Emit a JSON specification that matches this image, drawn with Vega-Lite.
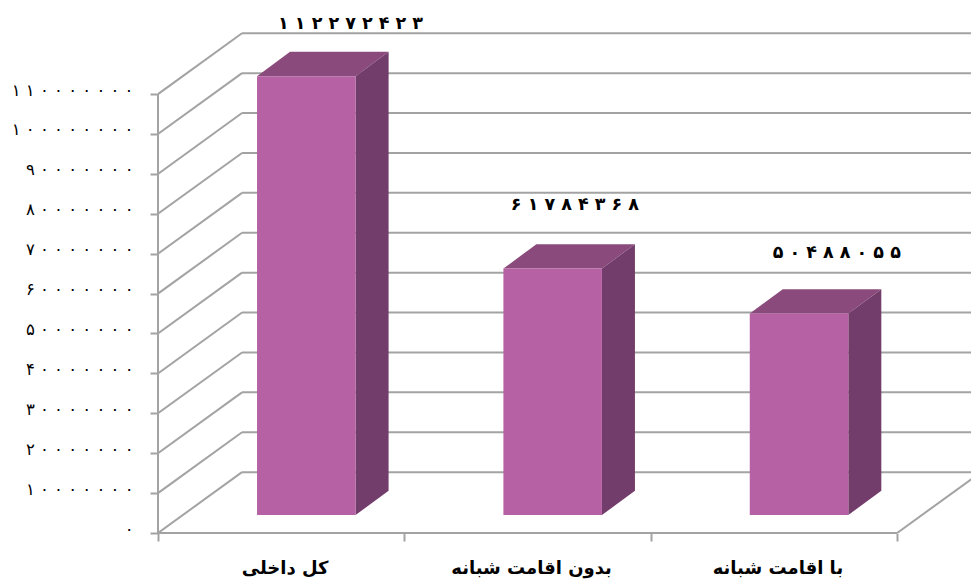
{
"$schema":"https://vega.github.io/schema/vega-lite/v6.json",
"width":813,"height":533,
"autosize":{"type":"none"},
"padding":{"left":158,"top":0,"right":0,"bottom":49},
"background":"#ffffff",
"config":{"view":{"stroke":null},"axis":{"title":null,"grid":false,"domain":false}},
"datasets":{
"bars":[
{"category":"کل داخلی","slot":0,"value":112272423},
{"category":"بدون اقامت شبانه","slot":1,"value":61784368},
{"category":"با اقامت شبانه","slot":2,"value":50488055}
],
"ticks":[{"tick":0},{"tick":10000000},{"tick":20000000},{"tick":30000000},{"tick":40000000},{"tick":50000000},{"tick":60000000},{"tick":70000000},{"tick":80000000},{"tick":90000000},{"tick":100000000},{"tick":110000000}]
},
"layer":[
{"data":{"name":"ticks"},"transform":[{"calculate":"datum.tick+15250000","as":"tickBack"}],
"mark":{"type":"rule","color":"#a3a3a3","strokeWidth":2,"clip":true},
"encoding":{
"x":{"datum":0,"type":"quantitative","scale":{"domain":[0,3.3],"nice":false,"zero":false},
"axis":{"values":[0,1,2,3],"labels":false,"tickColor":"#a3a3a3","tickWidth":2,"tickSize":8}},
"x2":{"datum":0.341},
"y":{"field":"tick","type":"quantitative","scale":{"domain":[0,133580000],"nice":false,"zero":false},
"axis":{"values":[0,10000000,20000000,30000000,40000000,50000000,60000000,70000000,80000000,90000000,100000000,110000000],"format":"d","tickColor":"#a3a3a3","tickWidth":2,"tickSize":8,"labelPadding":17,"labelFont":"DejaVu Sans","labelFontSize":16.5,"labelColor":"#000000","labelOffset":-4,"labelExpr":"replace(replace(replace(replace(replace(replace(replace(replace(replace(replace(datum.label,/0/g,'۰ '),/1/g,'۱ '),/2/g,'۲ '),/3/g,'۳ '),/4/g,'۴ '),/5/g,'۵ '),/6/g,'۶ '),/7/g,'۷ '),/8/g,'۸ '),/9/g,'۹ ')"}},
"y2":{"field":"tickBack"}
}},
{"data":{"name":"ticks"},"transform":[{"calculate":"datum.tick+15250000","as":"tickBack"}],
"mark":{"type":"rule","color":"#a3a3a3","strokeWidth":2,"clip":true},
"encoding":{"x":{"datum":0.341,"type":"quantitative"},"x2":{"datum":3.3},"y":{"field":"tickBack","type":"quantitative"}}},
{"mark":{"type":"rule","color":"#a3a3a3","strokeWidth":2,"clip":true},"data":{"values":[{"a":0}]},
"encoding":{"x":{"datum":3,"type":"quantitative"},"x2":{"datum":3.341},"y":{"datum":0,"type":"quantitative"},"y2":{"datum":15250000}}},
{"mark":{"type":"rule","color":"#a3a3a3","strokeWidth":2},"data":{"values":[{"a":0}]},
"encoding":{"x":{"datum":0,"type":"quantitative"},"x2":{"datum":3},"y":{"datum":0,"type":"quantitative"}}},
{"mark":{"type":"rule","color":"#a3a3a3","strokeWidth":2},"data":{"values":[{"a":0}]},
"encoding":{"x":{"datum":0,"type":"quantitative"},"y":{"datum":0,"type":"quantitative"},"y2":{"datum":110000000}}},
{"data":{"name":"bars"},
"transform":[
{"calculate":"datum.slot+0.402","as":"x0"},{"calculate":"datum.slot+0.802","as":"x1"},
{"calculate":"min(datum.value,110000000)+4500000","as":"t"},
{"calculate":"[datum.t,datum.t+6100000]","as":"ys"},
{"calculate":"[datum.x0,datum.x0+0.134]","as":"xa"},
{"calculate":"[datum.x1,datum.x1+0.134]","as":"xb"},
{"flatten":["ys","xa","xb"]}],
"mark":{"type":"area","orient":"horizontal","color":"#8a4b7c"},
"encoding":{"y":{"field":"ys","type":"quantitative"},"x":{"field":"xa","type":"quantitative"},"x2":{"field":"xb"},"detail":{"field":"category"}}},
{"data":{"name":"bars"},
"transform":[
{"calculate":"datum.slot+0.802","as":"x1"},
{"calculate":"min(datum.value,110000000)+4500000","as":"t"},
{"calculate":"[datum.x1,datum.x1+0.134]","as":"xs"},
{"calculate":"[4500000,10600000]","as":"lo"},
{"calculate":"[datum.t,datum.t+6100000]","as":"hi"},
{"flatten":["xs","lo","hi"]}],
"mark":{"type":"area","color":"#733d6b"},
"encoding":{"x":{"field":"xs","type":"quantitative"},"y":{"field":"lo","type":"quantitative"},"y2":{"field":"hi"},"detail":{"field":"category"}}},
{"data":{"name":"bars"},
"transform":[
{"calculate":"datum.slot+0.402","as":"x0"},{"calculate":"datum.slot+0.802","as":"x1"},
{"calculate":"min(datum.value,110000000)+4500000","as":"t"},
{"calculate":"4500000","as":"b"}],
"mark":{"type":"rect","color":"#b561a3"},
"encoding":{"x":{"field":"x0","type":"quantitative"},"x2":{"field":"x1"},"y":{"field":"b","type":"quantitative"},"y2":{"field":"t"}}},
{"data":{"name":"bars"},
"transform":[{"filter":"datum.slot==0"},{"calculate":"datum.slot+0.402","as":"x0"},{"calculate":"min(datum.value,110000000)+4500000","as":"t"},
{"calculate":"replace(replace(replace(replace(replace(replace(replace(replace(replace(replace(format(datum.value,'d'),/0/g,'۰ '),/1/g,'۱ '),/2/g,'۲ '),/3/g,'۳ '),/4/g,'۴ '),/5/g,'۵ '),/6/g,'۶ '),/7/g,'۷ '),/8/g,'۸ '),/9/g,'۹ ')","as":"label"}],
"mark":{"type":"text","font":"DejaVu Sans","fontWeight":"bold","fontSize":17.5,"color":"#000000","baseline":"middle","align":"center","dx":93.5,"dy":-52},
"encoding":{"x":{"field":"x0","type":"quantitative"},"y":{"field":"t","type":"quantitative"},"text":{"field":"label"}}},
{"data":{"name":"bars"},
"transform":[{"filter":"datum.slot==1"},{"calculate":"datum.slot+0.402","as":"x0"},{"calculate":"min(datum.value,110000000)+4500000","as":"t"},
{"calculate":"replace(replace(replace(replace(replace(replace(replace(replace(replace(replace(format(datum.value,'d'),/0/g,'۰ '),/1/g,'۱ '),/2/g,'۲ '),/3/g,'۳ '),/4/g,'۴ '),/5/g,'۵ '),/6/g,'۶ '),/7/g,'۷ '),/8/g,'۸ '),/9/g,'۹ ')","as":"label"}],
"mark":{"type":"text","font":"DejaVu Sans","fontWeight":"bold","fontSize":17.5,"color":"#000000","baseline":"middle","align":"center","dx":71.5,"dy":-64},
"encoding":{"x":{"field":"x0","type":"quantitative"},"y":{"field":"t","type":"quantitative"},"text":{"field":"label"}}},
{"data":{"name":"bars"},
"transform":[{"filter":"datum.slot==2"},{"calculate":"datum.slot+0.402","as":"x0"},{"calculate":"min(datum.value,110000000)+4500000","as":"t"},
{"calculate":"replace(replace(replace(replace(replace(replace(replace(replace(replace(replace(format(datum.value,'d'),/0/g,'۰ '),/1/g,'۱ '),/2/g,'۲ '),/3/g,'۳ '),/4/g,'۴ '),/5/g,'۵ '),/6/g,'۶ '),/7/g,'۷ '),/8/g,'۸ '),/9/g,'۹ ')","as":"label"}],
"mark":{"type":"text","font":"DejaVu Sans","fontWeight":"bold","fontSize":17.5,"color":"#000000","baseline":"middle","align":"center","dx":87,"dy":-61},
"encoding":{"x":{"field":"x0","type":"quantitative"},"y":{"field":"t","type":"quantitative"},"text":{"field":"label"}}},
{"data":{"name":"bars"},
"transform":[{"calculate":"datum.slot+0.5","as":"mid"},{"calculate":"0","as":"base"}],
"mark":{"type":"text","font":"DejaVu Sans","fontWeight":"bold","fontSize":18,"color":"#000000","baseline":"middle","align":"center","dx":4,"dy":36},
"encoding":{"x":{"field":"mid","type":"quantitative"},"y":{"field":"base","type":"quantitative"},"text":{"field":"category"}}}
]
}
